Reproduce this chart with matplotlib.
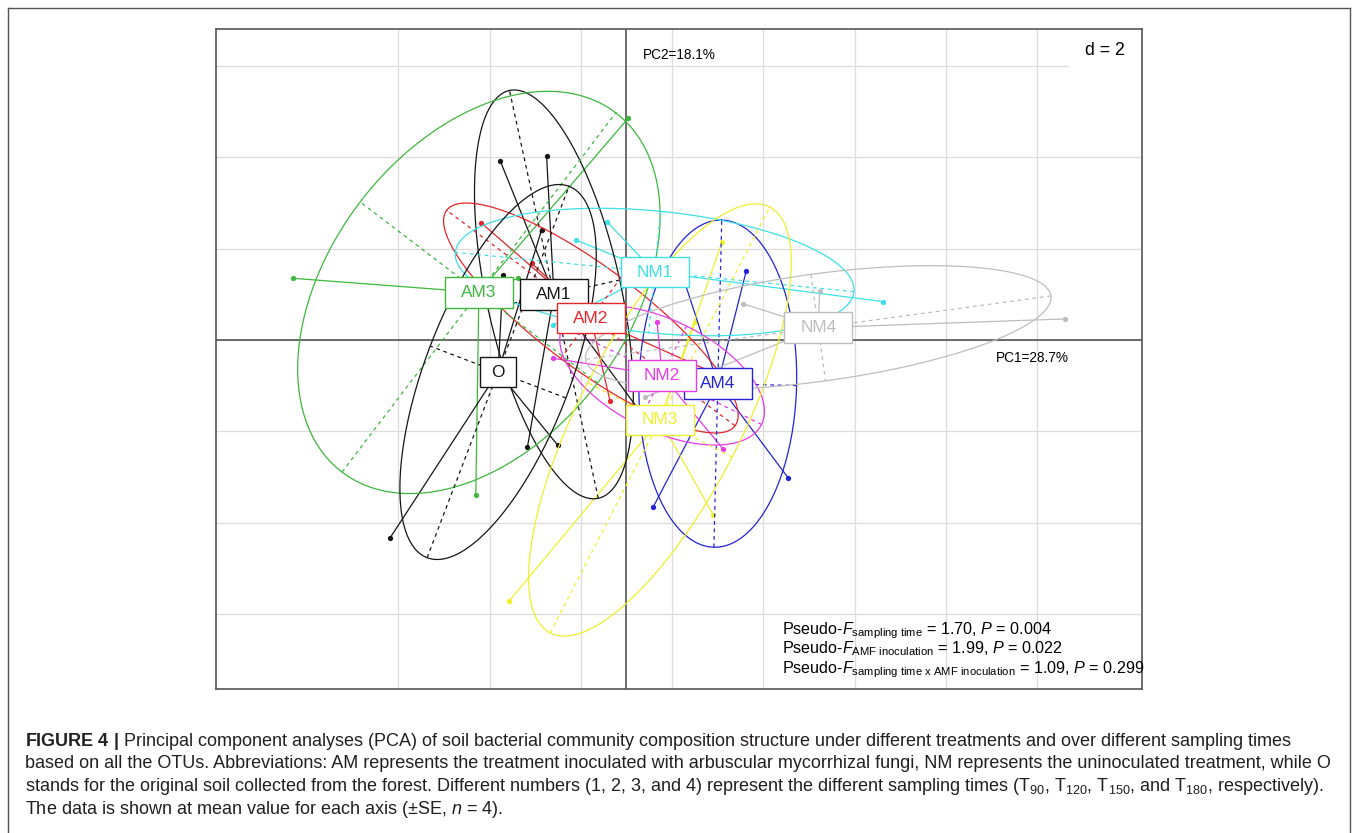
"""PCA of soil bacterial communities: class ellipses (ade4 s.class style) + figure caption."""

import numpy as np
import matplotlib

matplotlib.use("Agg")
import matplotlib.pyplot as plt
from matplotlib.lines import Line2D
from matplotlib.patches import Rectangle

plt.rcParams["font.family"] = ["Liberation Sans", "DejaVu Sans"]
plt.rcParams["mathtext.fontset"] = "custom"
plt.rcParams["mathtext.rm"] = "Liberation Sans"
plt.rcParams["mathtext.it"] = "Liberation Sans:italic"
plt.rcParams["mathtext.bf"] = "Liberation Sans:bold"

# sample scores on PC1 / PC2, four replicates per treatment
groups = ["AM1", "AM2", "AM3", "AM4", "NM1", "NM2", "NM3", "NM4", "O"]
am1_pc1 = [-2.76, -1.75, -2.17, 0.32]
am1_pc2 = [3.91, 4.03, -2.35, -1.60]
am2_pc1 = [-3.19, -2.08, -0.36, 2.51]
am2_pc2 = [2.57, 1.68, -1.34, -0.99]
am3_pc1 = [-7.30, 0.04, -2.37, -3.30]
am3_pc2 = [1.35, 4.86, 1.35, -3.40]
am4_pc1 = [2.62, 0.59, 3.54, 1.25]
am4_pc2 = [1.50, -3.65, -3.02, 1.34]
nm1_pc1 = [-0.43, -1.11, 5.61, -1.60]
nm1_pc2 = [2.59, 2.19, 0.84, 0.33]
nm2_pc1 = [-1.62, 0.67, 2.12, 1.95]
nm2_pc2 = [-0.40, 0.40, -2.39, -0.72]
nm3_pc1 = [-2.57, 2.09, 1.90, 1.51]
nm3_pc2 = [-5.72, 2.14, -3.83, 0.40]
nm4_pc1 = [2.56, 4.23, 9.60, 0.41]
nm4_pc2 = [0.79, 1.08, 0.46, -1.25]
o_pc1 = [-1.86, -2.70, -5.18, -1.51]
o_pc2 = [2.41, 1.42, -4.34, -2.30]

pc1_label = "PC1=28.7%"
pc2_label = "PC2=18.1%"
grid_step = 2
stats_lines = [
    r"Pseudo-$\mathit{F}_{\mathrm{sampling\ time}}$ = 1.70, $\mathit{P}$ = 0.004",
    r"Pseudo-$\mathit{F}_{\mathrm{AMF\ inoculation}}$ = 1.99, $\mathit{P}$ = 0.022",
    r"Pseudo-$\mathit{F}_{\mathrm{sampling\ time\ x\ AMF\ inoculation}}$ = 1.09, $\mathit{P}$ = 0.299",
]
caption_lines = [
    r"$\mathbf{FIGURE\ 4\ |}$ Principal component analyses (PCA) of soil bacterial community composition "
    "structure under different treatments and over different sampling times",
    "based on all the OTUs. Abbreviations: AM represents the treatment inoculated with arbuscular "
    "mycorrhizal fungi, NM represents the uninoculated treatment, while O",
    "stands for the original soil collected from the forest. Different numbers (1, 2, 3, and 4) represent "
    r"the different sampling times (T$_{90}$, T$_{120}$, T$_{150}$, and T$_{180}$, respectively).",
    r"The data is shown at mean value for each axis ($\pm$SE, $\mathit{n}$ = 4).",
]

scores = {
    "AM1": (am1_pc1, am1_pc2), "AM2": (am2_pc1, am2_pc2), "AM3": (am3_pc1, am3_pc2),
    "AM4": (am4_pc1, am4_pc2), "NM1": (nm1_pc1, nm1_pc2), "NM2": (nm2_pc1, nm2_pc2),
    "NM3": (nm3_pc1, nm3_pc2), "NM4": (nm4_pc1, nm4_pc2), "O": (o_pc1, o_pc2),
}
# R default palette 1..8, recycled for the 9th class
palette = ["#151515", "#e5262b", "#3cb83c", "#2323d6", "#3de0e6",
           "#e63be6", "#efef2a", "#bdbdbd", "#151515"]


def class_ellipse(x, y, coeff=1.5):
    """Centroid, ellipse outline and ellipse axes from the (1/n) covariance."""
    x = np.asarray(x)
    y = np.asarray(y)
    mx, my = x.mean(), y.mean()
    vx = ((x - mx) ** 2).mean()
    vy = ((y - my) ** 2).mean()
    cxy = ((x - mx) * (y - my)).mean()
    vals, vecs = np.linalg.eigh(np.array([[vx, cxy], [cxy, vy]]))
    vals = np.sqrt(np.clip(vals, 0, None))
    major = vecs[:, 1] * vals[1] * coeff
    minor = vecs[:, 0] * vals[0] * coeff
    t = np.linspace(0, 2 * np.pi, 200)
    ex = mx + major[0] * np.cos(t) + minor[0] * np.sin(t)
    ey = my + major[1] * np.cos(t) + minor[1] * np.sin(t)
    return mx, my, ex, ey, major, minor


fig = plt.figure(figsize=(13.57, 8.33), dpi=100)
W, H = 1357, 833

# outer frame of the figure panel (open at the bottom)
frame = dict(color="#555555", lw=1.0, transform=fig.transFigure)
fig.add_artist(Line2D([8 / W, 8 / W], [0, 1 - 8 / H], **frame))
fig.add_artist(Line2D([8 / W, 1350 / W], [1 - 8 / H, 1 - 8 / H], **frame))
fig.add_artist(Line2D([1350 / W, 1350 / W], [1 - 8 / H, 0], **frame))

ax = fig.add_axes([216 / W, 1 - 689 / H, 926 / W, 660 / H])
ax.set_xlim(-8.99, 11.29)
ax.set_ylim(-7.645, 6.81)
ax.set_xticks([])
ax.set_yticks([])
for sp in ax.spines.values():
    sp.set_color("#555555")
    sp.set_linewidth(1.2)

for gx in np.arange(-5, 10, grid_step):
    ax.axvline(gx, color="#dcdcdc", lw=0.9, zorder=0)
for gy in np.arange(-6, 7, grid_step):
    ax.axhline(gy, color="#dcdcdc", lw=0.9, zorder=0)
ax.axhline(0, color="#555555", lw=1.2, zorder=0.5)
ax.axvline(0, color="#555555", lw=1.2, zorder=0.5)

# scale box in the corner
ax.add_patch(Rectangle((0.921, 0.93), 0.079, 0.07, transform=ax.transAxes,
                       fc="white", ec="none", zorder=0.8))
ax.text(0.9816, 0.967, f"d = {grid_step}", transform=ax.transAxes,
        ha="right", va="center", fontsize=12.8, zorder=0.9)

geom = {g: class_ellipse(*scores[g]) for g in groups}

# points, stars, ellipses (with dashed axes), then boxed labels
for g, col in zip(groups, palette):
    xs, ys = scores[g]
    ax.plot(xs, ys, "o", ms=3.8, color=col, mec="none", zorder=2)
for g, col in zip(groups, palette):
    xs, ys = scores[g]
    mx, my = geom[g][:2]
    for px, py in zip(xs, ys):
        ax.plot([mx, px], [my, py], color=col, lw=0.9, zorder=2)
for g, col in zip(groups, palette):
    mx, my, ex, ey, major, minor = geom[g]
    ax.plot(ex, ey, color=col, lw=0.9, zorder=2)
    for v in (major, minor):
        ax.plot([mx - v[0], mx + v[0]], [my - v[1], my + v[1]], color=col,
                lw=0.9, ls=(0, (3, 3)), zorder=2)
for g, col in zip(groups, palette):
    mx, my = geom[g][:2]
    bw = 0.42 + 0.357 * len(g)
    bh = 0.67
    ax.add_patch(Rectangle((mx - bw / 2, my - bh / 2), bw, bh, fc="white",
                           ec=col, lw=1.0, zorder=4))
    ax.text(mx, my, g, color=col, fontsize=12.4, ha="center", va="center", zorder=5)

ax.text(0.36, 6.24, pc2_label, fontsize=9.8, ha="left", va="center", zorder=6)
ax.text(8.09, -0.39, pc1_label, fontsize=9.8, ha="left", va="center", zorder=6)

for i, line in enumerate(stats_lines):
    ax.text(3.41, -6.44 - 0.43 * i, line, fontsize=11.6, ha="left",
            va="baseline", zorder=6)

for i, line in enumerate(caption_lines):
    fig.text(25 / W, 1 - (745.5 + 22.8 * i) / H, line, fontsize=13.0,
             color="#231f20", ha="left", va="baseline")

fig.savefig("out.png", dpi=100)
